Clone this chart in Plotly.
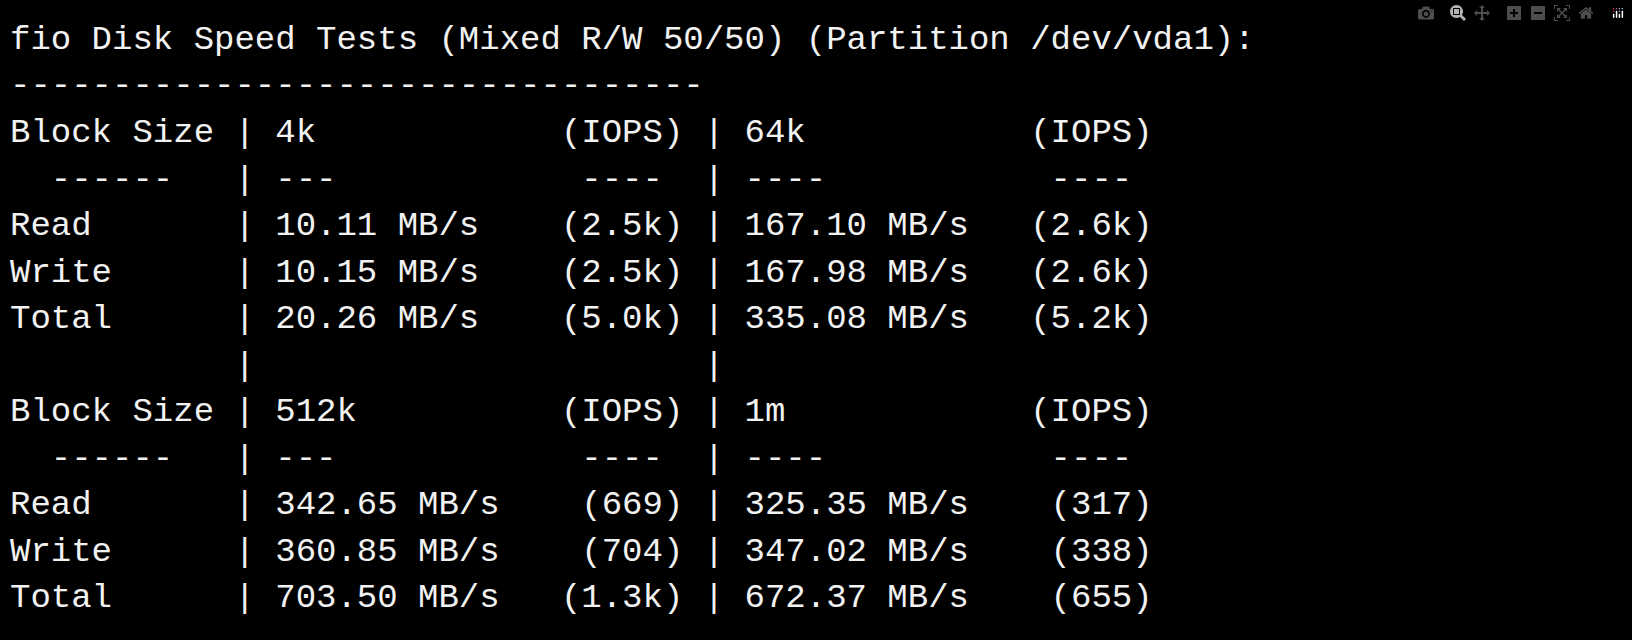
import plotly.graph_objects as go

title = "fio Disk Speed Tests (Mixed R/W 50/50) (Partition /dev/vda1):"
block_sizes = [["4k", "64k"], ["512k", "1m"]]
row_labels = ["Read", "Write", "Total"]
speeds = [[["10.11 MB/s", "167.10 MB/s"], ["10.15 MB/s", "167.98 MB/s"], ["20.26 MB/s", "335.08 MB/s"]],
          [["342.65 MB/s", "325.35 MB/s"], ["360.85 MB/s", "347.02 MB/s"], ["703.50 MB/s", "672.37 MB/s"]]]
iops = [[["(2.5k)", "(2.6k)"], ["(2.5k)", "(2.6k)"], ["(5.0k)", "(5.2k)"]],
        [["(669)", "(317)"], ["(704)", "(338)"], ["(1.3k)", "(655)"]]]

def row(a, b, c, d, e):
    return "%-10s | %-11s %8s | %-11s %8s" % (a, b, c, d, e)

lines = [title, "-" * 34]
for g in range(2):
    lines.append(row("Block Size", block_sizes[g][0], "(IOPS)", block_sizes[g][1], "(IOPS)"))
    lines.append(row("  ------", "---", "---- ", "----", "---- "))
    for i, lab in enumerate(row_labels):
        lines.append(row(lab, speeds[g][i][0], iops[g][i][0], speeds[g][i][1], iops[g][i][1]))
    if g == 0:
        lines.append(row("", "", "", "", ""))

W, H = 1632, 640
fig = go.Figure()
anns = []
for i, t in enumerate(lines):
    ypx = 40 + i * 46.5
    anns.append(dict(text=t.rstrip().replace(" ", "\u00a0"), x=8 / W, y=1 - ypx / H,
                     xref="paper", yref="paper", xanchor="left", yanchor="middle",
                     showarrow=False, font=dict(family="Liberation Mono", size=34, color="#f2f2f2")))
fig.update_layout(width=W, height=H, margin=dict(l=0, r=0, t=0, b=0),
                  paper_bgcolor="black", plot_bgcolor="black", annotations=anns,
                  xaxis=dict(visible=False), yaxis=dict(visible=False))
fig.write_html("out.html",
               post_script="document.body.style.margin='0';document.body.style.background='black';")
